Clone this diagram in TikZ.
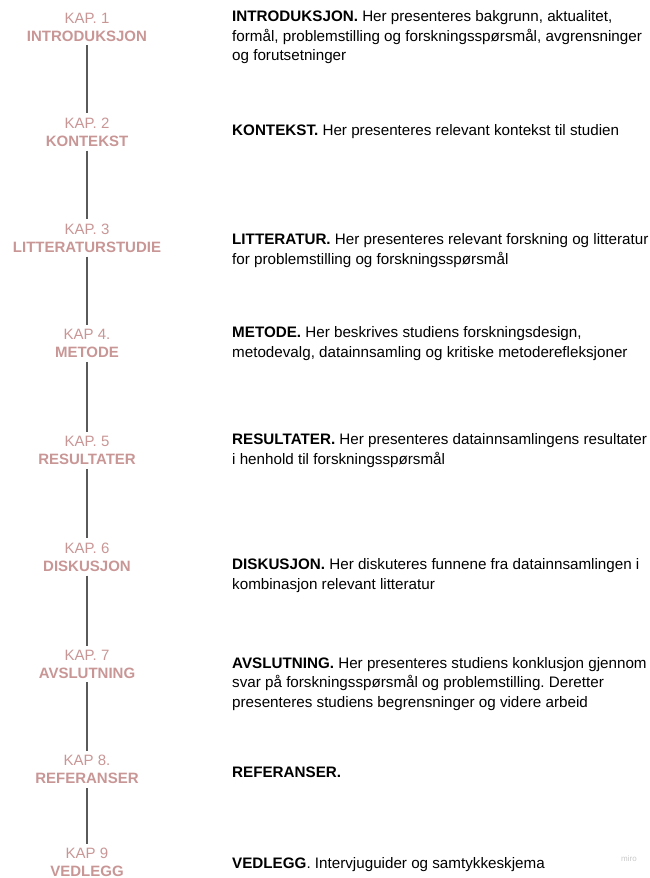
\documentclass[tikz,border=0pt]{standalone}
\usepackage{fontspec}
\setmainfont{Liberation Sans}
\frenchspacing
\definecolor{kaprose}{RGB}{201,150,150}
\definecolor{spinegray}{RGB}{90,90,90}
\definecolor{markgray}{RGB}{200,200,200}
\begin{document}
\begin{tikzpicture}[x=1pt,y=-1pt,chapter/.style={align=center,text=kaprose,font=\fontsize{15}{18}\selectfont,inner sep=4pt},summary/.style={anchor=west,align=left,font=\fontsize{15.2}{19.5}\selectfont,inner sep=0pt},spine/.style={draw=spinegray,line width=1.1pt}]
\useasboundingbox (0,0) rectangle (649,878);
\coordinate (K1) at (87,27);
\coordinate (K2) at (87,132);
\coordinate (K3) at (87,238);
\coordinate (K4) at (87,343.5);
\coordinate (K5) at (87,450.5);
\coordinate (K6) at (87,557);
\coordinate (K7) at (87,664);
\coordinate (K8) at (87,769.5);
\coordinate (K9) at (87,862);
\node[chapter] (kap1) at (K1) {KAP. 1\\\textbf{INTRODUKSJON}};
\node[chapter] (kap2) at (K2) {KAP. 2\\\textbf{KONTEKST}};
\node[chapter] (kap3) at (K3) {KAP. 3\\\textbf{LITTERATURSTUDIE}};
\node[chapter] (kap4) at (K4) {KAP 4.\\\textbf{METODE}};
\node[chapter] (kap5) at (K5) {KAP. 5\\\textbf{RESULTATER}};
\node[chapter] (kap6) at (K6) {KAP. 6\\\textbf{DISKUSJON}};
\node[chapter] (kap7) at (K7) {KAP. 7\\\textbf{AVSLUTNING}};
\node[chapter] (kap8) at (K8) {KAP 8.\\\textbf{REFERANSER}};
\node[chapter] (kap9) at (K9) {KAP 9\\\textbf{VEDLEGG}};
\node[summary] (desc1) at (232,37.5) {\textbf{INTRODUKSJON.} Her presenteres bakgrunn, aktualitet,\\formål, problemstilling og forskningsspørsmål, avgrensninger\\og forutsetninger};
\node[summary] (desc2) at (232,132) {\textbf{KONTEKST.} Her presenteres relevant kontekst til studien};
\node[summary] (desc3) at (232,250.5) {\textbf{LITTERATUR.} Her presenteres relevant forskning og litteratur\\for problemstilling og forskningsspørsmål};
\node[summary] (desc4) at (232,343.5) {\textbf{METODE.} Her beskrives studiens forskningsdesign,\\metodevalg, datainnsamling og kritiske metoderefleksjoner};
\node[summary] (desc5) at (232,450.5) {\textbf{RESULTATER.} Her presenteres datainnsamlingens resultater\\i henhold til forskningsspørsmål};
\node[summary] (desc6) at (232,575.5) {\textbf{DISKUSJON.} Her diskuteres funnene fra datainnsamlingen i\\kombinasjon relevant litteratur};
\node[summary] (desc7) at (232,684) {\textbf{AVSLUTNING.} Her presenteres studiens konklusjon gjennom\\svar på forskningsspørsmål og problemstilling. Deretter\\presenteres studiens begrensninger og videre arbeid};
\node[summary] (desc8) at (232,772) {\textbf{REFERANSER.}};
\node[summary] (desc9) at (232,865) {\textbf{VEDLEGG}. Intervjuguider og samtykkeskjema};
\node[text=markgray,font=\fontsize{8}{9}\selectfont] (miro) at (629,859) {miro};
\draw[spine] (kap1) -- (kap2);
\draw[spine] (kap2) -- (kap3);
\draw[spine] (kap3) -- (kap4);
\draw[spine] (kap4) -- (kap5);
\draw[spine] (kap5) -- (kap6);
\draw[spine] (kap6) -- (kap7);
\draw[spine] (kap7) -- (kap8);
\draw[spine] (kap8) -- (kap9);
\end{tikzpicture}
\end{document}
